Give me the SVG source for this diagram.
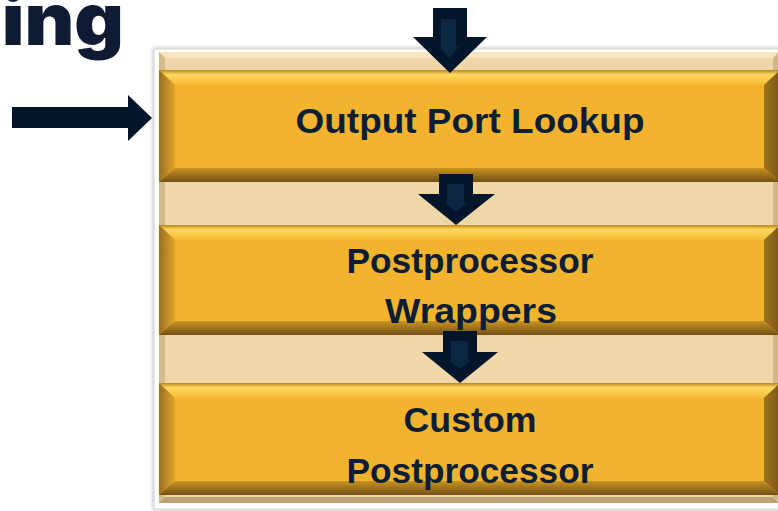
<svg xmlns="http://www.w3.org/2000/svg" width="778" height="511" viewBox="0 0 778 511">
  <defs>
    <linearGradient id="bevTop" x1="0" y1="0" x2="0" y2="1">
      <stop offset="0" stop-color="#B8841F"/>
      <stop offset="0.3" stop-color="#FFD95F"/>
      <stop offset="1" stop-color="#F5BA33"/>
    </linearGradient>
    <linearGradient id="bevLeft" x1="0" y1="0" x2="1" y2="0">
      <stop offset="0" stop-color="#9A6E1E"/>
      <stop offset="1" stop-color="#E0A52C"/>
    </linearGradient>
    <linearGradient id="bevRight" x1="0" y1="0" x2="1" y2="0">
      <stop offset="0" stop-color="#9C7220"/>
      <stop offset="1" stop-color="#7C5814"/>
    </linearGradient>
    <linearGradient id="bevBottom" x1="0" y1="0" x2="0" y2="1">
      <stop offset="0" stop-color="#C99424"/>
      <stop offset="1" stop-color="#735013"/>
    </linearGradient>
    <filter id="panelShadow" x="-5%" y="-5%" width="110%" height="110%">
      <feGaussianBlur in="SourceAlpha" stdDeviation="2"/>
      <feComponentTransfer><feFuncA type="linear" slope="0.35"/></feComponentTransfer>
      <feMerge><feMergeNode/><feMergeNode in="SourceGraphic"/></feMerge>
    </filter>
  </defs>
  <style>
    .face { fill: #F2B42F; }
    .t { fill: url(#bevTop); }
    .l { fill: url(#bevLeft); }
    .r { fill: url(#bevRight); }
    .b { fill: url(#bevBottom); }
    .label { font-family: "Liberation Sans", Arial, sans-serif; font-weight: bold; font-size: 35px; fill: #0C1D36; text-anchor: middle; }
    .arrow { fill: #02152B; }
    .arrowCore { fill: #0B2743; }
  </style>

  <rect width="778" height="511" fill="#FFFFFF"/>

  <!-- heading fragment, partly outside the top-left edge -->
  <text x="124" y="45" font-family="Inter, 'Liberation Sans', sans-serif" font-weight="900" font-size="80" fill="#0E1B33" text-anchor="end" transform="translate(124,45) scale(0.96,0.9) translate(-124,-45)">ing</text>

  <!-- white card with soft shadow -->
  <rect x="154" y="49" width="640" height="460" fill="#FFFFFF" stroke="#D4D4D4" stroke-width="1" filter="url(#panelShadow)"/>

  <!-- beige backing panel with light bevel -->
  <g id="panel">
    <rect x="159" y="52" width="620" height="451" fill="#EFD7AA"/>
    <polygon points="159,52 779,52 773,58 165,58" fill="#FAE5C1"/>
    <polygon points="159,52 165,58 165,497 159,503" fill="#D5BA8C"/>
    <polygon points="779,52 779,503 773,497 773,58" fill="#D3B887"/>
    <polygon points="159,503 165,497 773,497 779,503" fill="#BDA276"/>
  </g>

  <!-- stage 1 -->
  <g id="output-port-lookup">
    <rect class="face" x="159" y="70" width="621" height="112"/>
    <polygon class="t" points="159,70 780,70 764,85 175,85"/>
    <polygon class="l" points="159,70 175,85 175,168 159,182"/>
    <polygon class="r" points="780,70 780,182 764,168 764,85"/>
    <polygon class="b" points="159,182 175,168 764,168 780,182"/>
    <text class="label" x="470" y="133" textLength="349" lengthAdjust="spacingAndGlyphs">Output Port Lookup</text>
  </g>

  <!-- stage 2 -->
  <g id="postprocessor-wrappers">
    <rect class="face" x="159" y="225" width="621" height="110"/>
    <polygon class="t" points="159,225 780,225 764,240 175,240"/>
    <polygon class="l" points="159,225 175,240 175,321 159,335"/>
    <polygon class="r" points="780,225 780,335 764,321 764,240"/>
    <polygon class="b" points="159,335 175,321 764,321 780,335"/>
    <text class="label" x="470" y="273" textLength="247" lengthAdjust="spacingAndGlyphs">Postprocessor</text>
    <text class="label" x="471" y="323" textLength="172" lengthAdjust="spacingAndGlyphs">Wrappers</text>
  </g>

  <!-- stage 3 -->
  <g id="custom-postprocessor">
    <rect class="face" x="159" y="383" width="621" height="112"/>
    <polygon class="t" points="159,383 780,383 764,398 175,398"/>
    <polygon class="l" points="159,383 175,398 175,481 159,495"/>
    <polygon class="r" points="780,383 780,495 764,481 764,398"/>
    <polygon class="b" points="159,495 175,481 764,481 780,495"/>
    <text class="label" x="470" y="432" textLength="133" lengthAdjust="spacingAndGlyphs">Custom</text>
    <text class="label" x="470" y="483" textLength="247" lengthAdjust="spacingAndGlyphs">Postprocessor</text>
  </g>

  <!-- connectors -->
  <g id="connectors">
    <!-- incoming from the left -->
    <polygon class="arrow" points="12,107 128,107 128,95 152,118 128,141 128,128 12,128"/>
    <!-- incoming from above -->
    <polygon class="arrow" points="433,8 467,8 467,37 487,37 450,73 413,37 433,37"/>
    <polygon class="arrowCore" points="441,19 456,19 456,47 459,47 449,58 439,47 441,47"/>
    <!-- stage 1 to stage 2 -->
    <polygon class="arrow" points="439,174 473,174 473,194 495,194 456,225 418,194 439,194"/>
    <polygon class="arrowCore" points="447,184 464,184 464,203 467,203 456,212 445,203 447,203"/>
    <!-- stage 2 to stage 3 -->
    <polygon class="arrow" points="443,331 477,331 477,352 498,352 460,383 422,352 443,352"/>
    <polygon class="arrowCore" points="451,341 468,341 468,360 471,360 460,369 449,360 451,360"/>
  </g>
</svg>
